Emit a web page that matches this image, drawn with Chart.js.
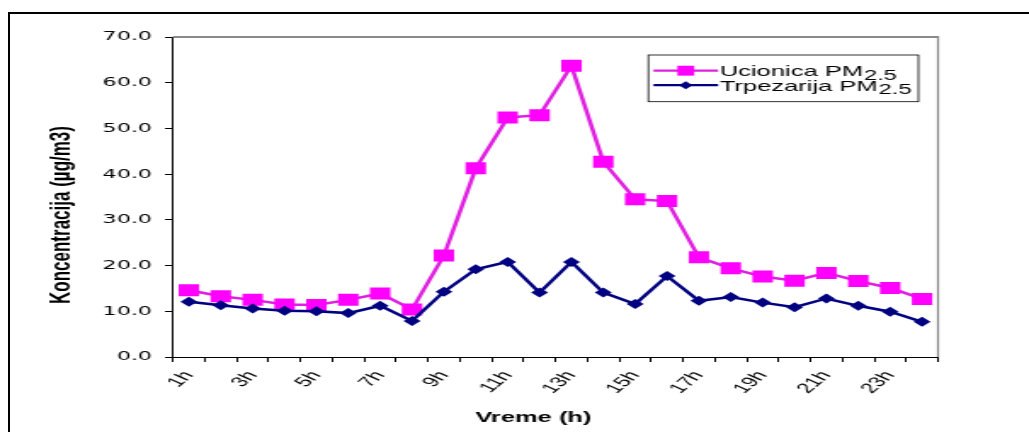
<!DOCTYPE html>
<html>
<head>
<meta charset="utf-8">
<script src="https://cdn.jsdelivr.net/npm/chart.js@4.4.1/dist/chart.umd.min.js"></script>
<style>
  html, body { margin:0; padding:0; background:#fff; overflow:hidden; }
  body { width:1029px; height:432px; position:relative; }
  /* the chart is laid out narrow and then widened to the page width */
  #wrap { position:absolute; left:0; top:0; width:605px; height:432px;
          transform:scaleX(1.7008); transform-origin:0 0; }
  #frame { position:absolute; left:8px; top:12px; width:1100px; height:500px;
           border-left:2px solid #000; border-top:2px solid #000; pointer-events:none; }
</style>
</head>
<body>
<div id="frame"></div>
<div id="wrap"><canvas id="pmChart"></canvas></div>
<script>
const hours = ['1h','2h','3h','4h','5h','6h','7h','8h','9h','10h','11h','12h',
               '13h','14h','15h','16h','17h','18h','19h','20h','21h','22h','23h','24h'];
const ucionica   = [14.6, 13.3, 12.5, 11.5, 11.4, 12.5, 13.9, 10.4, 22.2, 41.3, 52.4, 52.9,
                    63.7, 42.7, 34.5, 34.1, 21.8, 19.4, 17.6, 16.7, 18.4, 16.6, 15.1, 12.7];
const trpezarija = [12.1, 11.3, 10.6, 10.1, 10.0,  9.6, 11.2,  7.9, 14.3, 19.2, 20.8, 14.1,
                    20.8, 14.1, 11.6, 17.7, 12.3, 13.1, 11.9, 10.9, 12.8, 11.2,  9.9,  7.7];
const seriesNames = ['Ucionica PM', 'Trpezarija PM'];
const pmSub = '2.5';
const yMin = 0, yMax = 70, yStep = 10;
const yTitle = 'Koncentracija (µg/m3)';
const xTitle = 'Vreme (h)';

const FONT = "'Liberation Sans', Arial, sans-serif";
const WIDE_FONT = "'DejaVu Sans', 'Liberation Sans', sans-serif";
Chart.defaults.font.family = FONT;
Chart.defaults.color = '#000';

const PINK = '#ff00ff', PINK_LINE = '#e020e0', NAVY = '#000080';

// plot frame, hand-drawn legend (for the subscript) and axis titles
const decorations = {
  id: 'decorations',
  afterDraw(chart) {
    const { ctx, chartArea: a } = chart;
    ctx.save();
    ctx.strokeStyle = '#8a8a8a';
    ctx.lineWidth = 2;
    ctx.beginPath(); ctx.moveTo(a.left, a.top); ctx.lineTo(a.right + 0.6, a.top); ctx.stroke();
    ctx.lineWidth = 1.2;
    ctx.beginPath(); ctx.moveTo(a.right, a.top); ctx.lineTo(a.right, a.bottom); ctx.stroke();

    // legend box
    const bx = a.right - 170.3, by = a.top + 18, bw = 158.8, bh = 46.7;
    ctx.strokeStyle = '#000';
    ctx.lineWidth = 0.8;
    ctx.strokeRect(bx, by, bw, bh);

    const rows = [
      { name: seriesNames[0], line: PINK_LINE, fill: PINK, style: 'rect', r: 7, cy: by + 15.7 },
      { name: seriesNames[1], line: NAVY, fill: NAVY, style: 'rectRot', r: 4, cy: by + 30.2 }
    ];
    rows.forEach(row => {
      ctx.strokeStyle = row.line;
      ctx.lineWidth = 2.2;
      ctx.beginPath(); ctx.moveTo(bx + 3, row.cy); ctx.lineTo(bx + 41, row.cy); ctx.stroke();
      ctx.fillStyle = row.fill;
      Chart.helpers.drawPoint(ctx, { pointStyle: row.style, radius: row.r, borderWidth: 0, rotation: 0 }, bx + 22, row.cy);
      ctx.fillStyle = '#000';
      ctx.textAlign = 'left';
      ctx.textBaseline = 'alphabetic';
      ctx.font = '15px ' + FONT;
      ctx.fillText(row.name, bx + 42, row.cy + 5.5);
      const w = ctx.measureText(row.name).width;
      ctx.font = '14px ' + FONT;
      ctx.fillText(pmSub, bx + 42 + w + 0.5, row.cy + 9);
    });

    // axis titles
    ctx.fillStyle = '#000';
    ctx.font = 'bold 15px ' + FONT;
    ctx.textAlign = 'center';
    ctx.textBaseline = 'alphabetic';
    ctx.fillText(xTitle, (a.left + a.right) / 2 - 13, a.bottom + 64.7);

    ctx.translate(a.left - 65.2, (a.top + a.bottom) / 2 + 18);
    ctx.rotate(-Math.PI / 2);
    ctx.font = 'bold 17px ' + FONT;
    ctx.textBaseline = 'middle';
    ctx.fillText(yTitle, 0, 0);
    ctx.restore();
  }
};

new Chart(document.getElementById('pmChart'), {
  type: 'line',
  data: {
    labels: hours,
    datasets: [
      { label: seriesNames[0] + pmSub, data: ucionica, order: 1,
        borderColor: PINK_LINE, borderWidth: 2.5, backgroundColor: PINK,
        pointStyle: 'rect', pointRadius: 8.5, pointBorderWidth: 0, pointBackgroundColor: PINK,
        tension: 0 },
      { label: seriesNames[1] + pmSub, data: trpezarija, order: 0,
        borderColor: NAVY, borderWidth: 2.5, backgroundColor: NAVY,
        pointStyle: 'rectRot', pointRadius: 5, pointBorderWidth: 0, pointBackgroundColor: NAVY,
        tension: 0 }
    ]
  },
  options: {
    responsive: true,
    maintainAspectRatio: false,
    animation: false,
    layout: { padding: { top: 37, right: 53.5, bottom: 0, left: 0 } },
    plugins: { legend: { display: false }, tooltip: { enabled: false } },
    scales: {
      x: {
        type: 'category',
        offset: true,
        afterFit: s => { s.height = 75; },
        grid: { offset: true, drawOnChartArea: false, color: '#000', tickLength: 5 },
        border: { color: '#000', width: 1 },
        ticks: {
          autoSkip: false, minRotation: 53, maxRotation: 53, padding: 6,
          font: { size: 14 }, color: '#000',
          callback: (v, i) => (i % 2 === 0 ? hours[i] : '')
        }
      },
      y: {
        min: yMin, max: yMax,
        afterFit: s => { s.width = 101.7; },
        grid: { drawOnChartArea: false, color: '#000', tickLength: 4.7 },
        border: { color: '#000', width: 1 },
        ticks: { stepSize: yStep, padding: 7.7, font: { size: 13, family: WIDE_FONT }, color: '#000',
                 callback: v => v.toFixed(1) }
      }
    }
  },
  plugins: [decorations]
});
</script>
</body>
</html>
